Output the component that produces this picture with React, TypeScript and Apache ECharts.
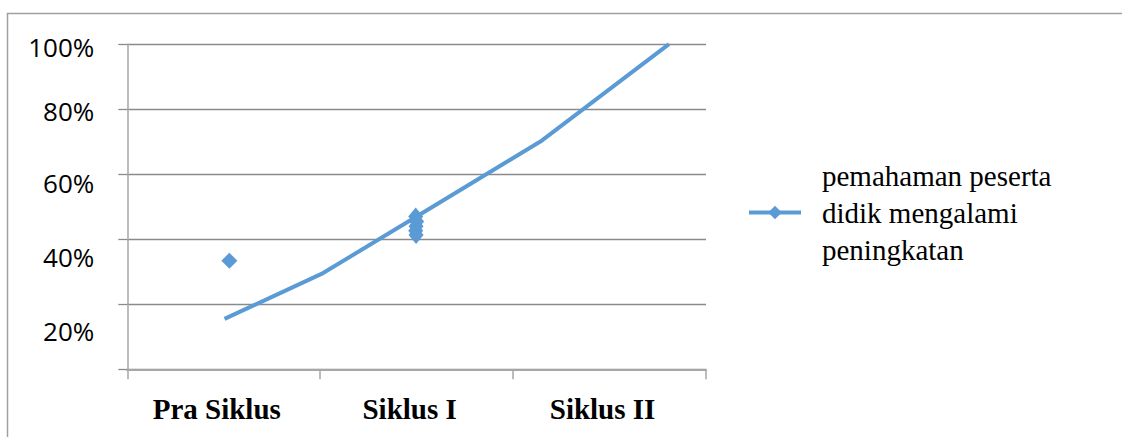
import React, { useEffect, useRef } from "react";
import * as echarts from "echarts";

const categories = ["Pra Siklus", "Siklus I", "Siklus II"];
const yTickValues = [0, 20, 40, 60, 80, 100];
const seriesName = "pemahaman peserta didik mengalami peningkatan";
const lineX = [0.504, 1.015, 1.502, 2.15, 2.808];
const lineY = [15.5, 29.6, 47.1, 70.4, 100];
const markerX = [0.529, 1.495, 1.5, 1.497, 1.495, 1.497];
const markerY = [33.4, 47.0, 45.5, 44.0, 42.6, 41.3];

const labelPad: Record<number, number> = { 100: 5, 80: 4, 60: 18, 40: 36, 20: 54 };

export default function App() {
  const ref = useRef<HTMLDivElement>(null);
  useEffect(() => {
    if (!ref.current) return;
    const chart = echarts.init(ref.current, null, { renderer: "svg" });
    const blue = "#5b9bd5";
    const rich: Record<string, any> = {};
    yTickValues.forEach((v) => {
      rich["s" + v] = {
        padding: [labelPad[v] || 0, 0, 0, 0],
        fontSize: 26,
        fontFamily: "Open Sans",
        color: "#000",
      };
    });
    chart.setOption({
      animation: false,
      backgroundColor: "#fff",
      grid: { left: 127.3, right: 416, top: 44.2, bottom: 67.7 },
      xAxis: [
        {
          type: "category",
          data: categories,
          boundaryGap: true,
          axisLine: { show: true, lineStyle: { color: "#a6a6a6", width: 2 } },
          axisTick: { show: true, length: 10, alignWithLabel: false, lineStyle: { color: "#a6a6a6", width: 1.5 } },
          axisLabel: {
            fontFamily: "Liberation Serif",
            fontWeight: "bold",
            fontSize: 29,
            color: "#000",
            margin: 25,
            padding: [0, 14, 0, 0],
          },
          splitLine: { show: false },
        },
        { type: "value", min: 0, max: 3, show: false },
      ],
      yAxis: {
        type: "value",
        min: 0,
        max: 100,
        interval: 20,
        axisLine: { show: true, lineStyle: { color: "#a6a6a6", width: 1.5 } },
        axisTick: { show: true, length: 9, inside: false, lineStyle: { color: "#8a8a8a", width: 1.3 } },
        splitLine: { show: true, lineStyle: { color: "#8a8a8a", width: 1.3 } },
        axisLabel: {
          margin: 33,
          fontSize: 26,
          fontFamily: "Open Sans",
          color: "#000",
          formatter: (v: number) => (v === 0 ? "" : `{s${v}|${v}%}`),
          rich,
        },
      },
      legend: {
        show: true,
        left: 747,
        top: 157,
        padding: 0,
        orient: "vertical",
        itemWidth: 52,
        itemHeight: 17,
        data: [seriesName],
        lineStyle: { width: 4 },
        formatter: () => "pemahaman peserta\ndidik mengalami\npeningkatan",
        textStyle: {
          fontFamily: "Liberation Serif",
          fontSize: 29,
          lineHeight: 37,
          color: "#000",
          padding: [0, 0, 0, 16],
        },
      },
      series: [
        {
          name: seriesName,
          type: "line",
          xAxisIndex: 1,
          data: lineX.map((x, i) => [x, lineY[i]]),
          symbol: "diamond",
          showSymbol: false,
          lineStyle: { color: blue, width: 4 },
          itemStyle: { color: blue },
        },
        {
          name: "markers",
          type: "scatter",
          xAxisIndex: 1,
          data: markerX.map((x, i) => [x, markerY[i]]),
          symbol: "diamond",
          symbolSize: (_v: any, p: any) => (p.dataIndex === 0 ? [16, 16] : [15, 18]),
          itemStyle: { color: blue, opacity: 1 },
        },
      ],
      graphic: [
        {
          type: "polyline",
          silent: true,
          shape: { points: [[7.5, 437], [7.5, 13.5], [1122, 13.5]] },
          style: { stroke: "#a0a0a0", lineWidth: 1.5, fill: "none" },
        },
      ],
    });
    return () => chart.dispose();
  }, []);
  return (
    <div
      ref={ref}
      style={{ position: "absolute", left: 0, top: 0, width: 1122, height: 437 }}
    />
  );
}
